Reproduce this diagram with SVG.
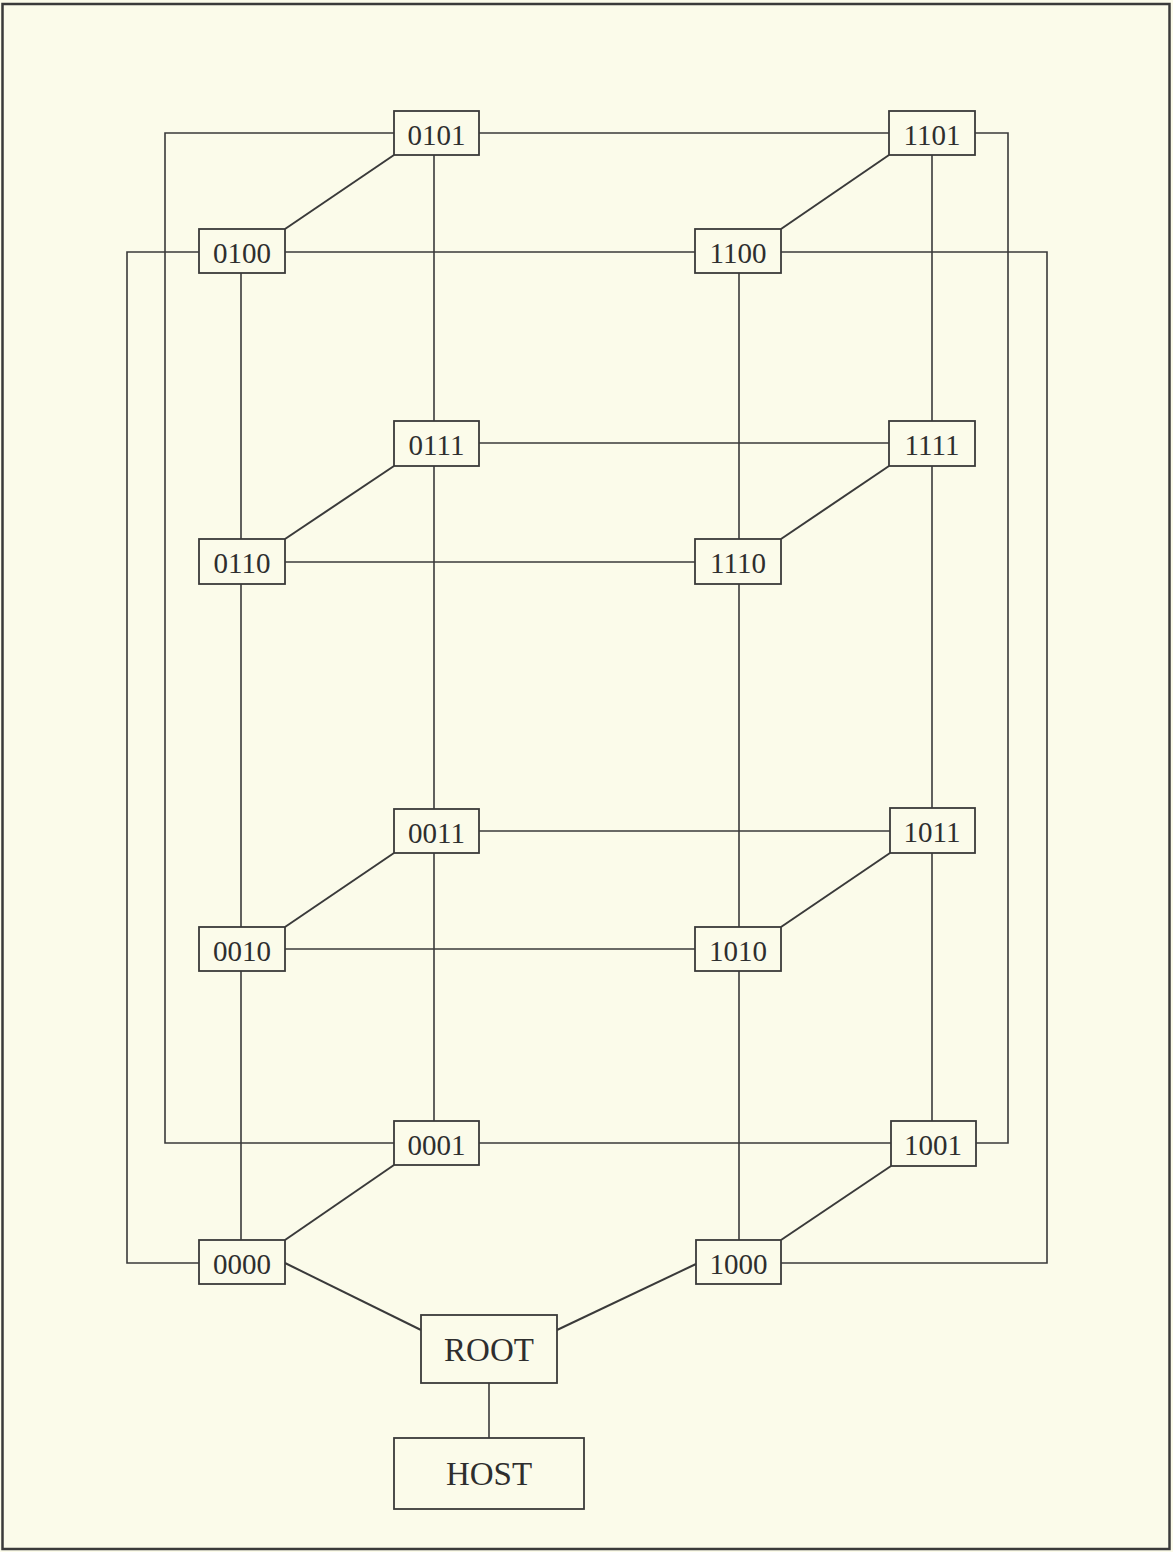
<svg xmlns="http://www.w3.org/2000/svg" width="1173" height="1552" viewBox="0 0 1173 1552">
<style>
.bg{fill:#fbfbea}
.frame{fill:none;stroke:#3a3a3a;stroke-width:2.5}
.ln{fill:none;stroke:#3a3a3a;stroke-width:1.6}
.dg{fill:none;stroke:#3a3a3a;stroke-width:2}
.box{fill:#fbfbea;stroke:#3a3a3a;stroke-width:1.8}
.t{font-family:"Liberation Serif","DejaVu Serif",serif;font-size:29px;fill:#2e2e2e;text-anchor:middle}
.tb{font-family:"Liberation Serif","DejaVu Serif",serif;font-size:33px;fill:#2e2e2e;text-anchor:middle}
</style>
<rect class="bg" x="0" y="0" width="1173" height="1552"/>
<rect class="frame" x="2.5" y="4" width="1167" height="1545"/>
<g id="connectors">
<!-- back-left loop / top row -->
<polyline class="ln" points="889,133 165,133 165,1143 1008,1143 1008,133 975,133"/>
<!-- front loop -->
<polyline class="ln" points="199,1263 127,1263 127,252 1047,252 1047,1263 781,1263"/>
<!-- horizontals -->
<line class="ln" x1="479" y1="443" x2="889" y2="443"/>
<line class="ln" x1="285" y1="562" x2="696" y2="562"/>
<line class="ln" x1="479" y1="831" x2="890" y2="831"/>
<line class="ln" x1="285" y1="949" x2="696" y2="949"/>
<!-- verticals -->
<line class="ln" x1="241" y1="273" x2="241" y2="1240"/>
<line class="ln" x1="434" y1="155" x2="434" y2="1121"/>
<line class="ln" x1="739" y1="272" x2="739" y2="1240"/>
<line class="ln" x1="932" y1="155" x2="932" y2="1121"/>
<!-- diagonals -->
<line class="dg" x1="285" y1="229" x2="394" y2="155"/>
<line class="dg" x1="285" y1="539" x2="394" y2="466"/>
<line class="dg" x1="285" y1="927" x2="394" y2="853"/>
<line class="dg" x1="285" y1="1240" x2="394" y2="1165"/>
<line class="dg" x1="781" y1="229" x2="889" y2="155"/>
<line class="dg" x1="781" y1="539" x2="889" y2="466"/>
<line class="dg" x1="781" y1="927" x2="890" y2="853"/>
<line class="dg" x1="781" y1="1240" x2="891" y2="1166"/>
<!-- root -->
<line class="dg" x1="285" y1="1263" x2="421" y2="1330"/>
<line class="dg" x1="696" y1="1264" x2="557" y2="1330"/>
<line class="ln" x1="489" y1="1383" x2="489" y2="1438"/>
</g>
<g id="n0101"><rect class="box" x="394" y="111" width="85" height="44"/><text class="t" x="436.5" y="145">0101</text></g>
<g id="n1101"><rect class="box" x="889" y="111" width="86" height="44"/><text class="t" x="932" y="145">1101</text></g>
<g id="n0100"><rect class="box" x="199" y="229" width="86" height="44"/><text class="t" x="242" y="263">0100</text></g>
<g id="n1100"><rect class="box" x="695" y="229" width="86" height="44"/><text class="t" x="738" y="263">1100</text></g>
<g id="n0111"><rect class="box" x="394" y="421" width="85" height="45"/><text class="t" x="436.5" y="455">0111</text></g>
<g id="n1111"><rect class="box" x="889" y="421" width="86" height="45"/><text class="t" x="932" y="455">1111</text></g>
<g id="n0110"><rect class="box" x="199" y="539" width="86" height="45"/><text class="t" x="242" y="573">0110</text></g>
<g id="n1110"><rect class="box" x="695" y="539" width="86" height="45"/><text class="t" x="738" y="573">1110</text></g>
<g id="n0011"><rect class="box" x="394" y="809" width="85" height="44"/><text class="t" x="436.5" y="843">0011</text></g>
<g id="n1011"><rect class="box" x="890" y="808" width="85" height="45"/><text class="t" x="932" y="842">1011</text></g>
<g id="n0010"><rect class="box" x="199" y="927" width="86" height="44"/><text class="t" x="242" y="961">0010</text></g>
<g id="n1010"><rect class="box" x="695" y="927" width="86" height="44"/><text class="t" x="738" y="961">1010</text></g>
<g id="n0001"><rect class="box" x="394" y="1121" width="85" height="44"/><text class="t" x="436.5" y="1155">0001</text></g>
<g id="n1001"><rect class="box" x="891" y="1121" width="85" height="45"/><text class="t" x="933" y="1155">1001</text></g>
<g id="n0000"><rect class="box" x="199" y="1240" width="86" height="44"/><text class="t" x="242" y="1274">0000</text></g>
<g id="n1000"><rect class="box" x="696" y="1240" width="85" height="44"/><text class="t" x="738.5" y="1274">1000</text></g>
<g id="root"><rect class="box" x="421" y="1315" width="136" height="68"/><text class="tb" x="489" y="1361">ROOT</text></g>
<g id="host"><rect class="box" x="394" y="1438" width="190" height="71"/><text class="tb" x="489" y="1485">HOST</text></g>
</svg>
